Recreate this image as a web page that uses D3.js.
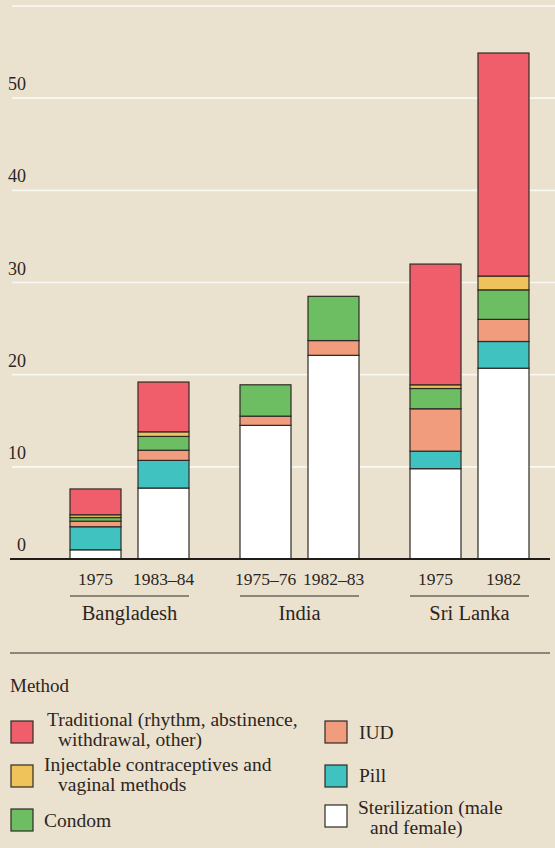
<!DOCTYPE html>
<html>
<head>
<meta charset="utf-8">
<script src="https://cdn.jsdelivr.net/npm/d3@7"></script>
<style>
  html, body { margin: 0; padding: 0; background: #ebe1cf; }
  svg { display: block; }
  text { font-family: "Liberation Serif", "Times New Roman", serif; fill: #2b2622; }
</style>
</head>
<body>
<svg id="chart" width="555" height="848"></svg>
<script>
// ---- data ----
const countries = ["Bangladesh", "India", "Sri Lanka"];
const periods = [["1975", "1983–84"], ["1975–76", "1982–83"], ["1975", "1982"]];
const methods = ["Sterilization", "Pill", "IUD", "Condom", "Injectable", "Traditional"];
// values in order: Bangladesh 1975, 1983–84, India 1975–76, 1982–83, Sri Lanka 1975, 1982
const sterilization = [1.0, 7.7, 14.5, 22.1, 9.8, 20.7];
const pill          = [2.5, 3.0, 0, 0, 1.9, 2.9];
const iud           = [0.6, 1.1, 1.0, 1.6, 4.6, 2.4];
const condom        = [0.4, 1.5, 3.4, 4.8, 2.2, 3.2];
const injectable    = [0.3, 0.5, 0, 0, 0.4, 1.5];
const traditional   = [2.8, 5.4, 0, 0, 13.1, 24.2];
const yTicks = [0, 10, 20, 30, 40, 50];
const gridValues = [10, 20, 30, 40, 50, 60];
const colors = {
  Sterilization: "#ffffff", Pill: "#40c2c0", IUD: "#f19c7c",
  Condom: "#6dbd62", Injectable: "#efc25a", Traditional: "#f05e6b"
};
const legendItems = [
  { key: "Traditional", lines: ["Traditional (rhythm, abstinence,", "withdrawal, other)"] },
  { key: "Injectable", lines: ["Injectable contraceptives and", "vaginal methods"] },
  { key: "Condom", lines: ["Condom"] },
  { key: "IUD", lines: ["IUD"] },
  { key: "Pill", lines: ["Pill"] },
  { key: "Sterilization", lines: ["Sterilization (male", "and female)"] }
];

// build rows
const seriesVals = { Sterilization: sterilization, Pill: pill, IUD: iud, Condom: condom, Injectable: injectable, Traditional: traditional };
const rows = [];
countries.forEach((c, ci) => periods[ci].forEach((p, pi) => {
  const idx = ci * 2 + pi;
  const r = { country: c, period: p, pi: pi };
  methods.forEach(m => r[m] = seriesVals[m][idx]);
  rows.push(r);
}));

const svg = d3.select("#chart");
const W = 555, H = 848;
svg.append("rect").attr("width", W).attr("height", H).attr("fill", "#ebe1cf");

const y = d3.scaleLinear().domain([0, 60]).range([559, 6]);
const x0 = d3.scaleBand().domain(countries).range([70, 529]).paddingInner(0.3).paddingOuter(0);
const x1 = d3.scaleBand().domain([0, 1]).range([0, x0.bandwidth()]).paddingInner(0.25);

// gridlines
svg.append("g").selectAll("line").data(gridValues).join("line")
  .attr("x1", 12).attr("x2", 555)
  .attr("y1", d => y(d)).attr("y2", d => y(d))
  .attr("stroke", "#faf8f2").attr("stroke-width", 1.6);

// y tick labels
svg.append("g").selectAll("text").data(yTicks).join("text")
  .attr("x", 26).attr("y", d => y(d) - 8)
  .attr("text-anchor", "end")
  .attr("font-size", 18)
  .text(d => d);

// stacked bars
const stack = d3.stack().keys(methods);
const stacked = stack(rows);
const gBars = svg.append("g");
stacked.forEach(layer => {
  gBars.append("g").selectAll("rect")
    .data(layer.filter(d => d[1] - d[0] > 0))
    .join("rect")
    .attr("x", d => x0(d.data.country) + x1(d.data.pi))
    .attr("width", x1.bandwidth())
    .attr("y", d => y(d[1]))
    .attr("height", d => y(d[0]) - y(d[1]))
    .attr("fill", colors[layer.key])
    .attr("stroke", "#2e2a26")
    .attr("stroke-width", 1.2);
});

// baseline
svg.append("line").attr("x1", 10).attr("x2", 550)
  .attr("y1", y(0)).attr("y2", y(0))
  .attr("stroke", "#1f1c1a").attr("stroke-width", 2);

// period labels
svg.append("g").selectAll("text").data(rows).join("text")
  .attr("x", d => x0(d.country) + x1(d.pi) + x1.bandwidth() / 2)
  .attr("y", 585)
  .attr("text-anchor", "middle")
  .attr("font-size", 17.5)
  .text(d => d.period);

// group underlines
svg.append("g").selectAll("line").data(countries).join("line")
  .attr("x1", d => x0(d)).attr("x2", d => x0(d) + x0.bandwidth())
  .attr("y1", 596).attr("y2", 596)
  .attr("stroke", "#2e2a26").attr("stroke-width", 1.2);

// country labels
svg.append("g").selectAll("text").data(countries).join("text")
  .attr("x", d => x0(d) + x0.bandwidth() / 2)
  .attr("y", 620)
  .attr("text-anchor", "middle")
  .attr("font-size", 20.5)
  .text(d => d);

// separator
svg.append("line").attr("x1", 10).attr("x2", 550)
  .attr("y1", 653).attr("y2", 653)
  .attr("stroke", "#2e2a26").attr("stroke-width", 1.2);

// legend
svg.append("text").attr("x", 10).attr("y", 692).attr("font-size", 19).text("Method");
const legendPos = [
  { sx: 11, sy: 721, tx: 47, ty: 726, indent: 11 },
  { sx: 11, sy: 765, tx: 44, ty: 771, indent: 14 },
  { sx: 11, sy: 809, tx: 44, ty: 827, indent: 0 },
  { sx: 325, sy: 721, tx: 359, ty: 739, indent: 0 },
  { sx: 325, sy: 765, tx: 359, ty: 782, indent: 0 },
  { sx: 325, sy: 805, tx: 358, ty: 814, indent: 12 }
];
const lg = svg.append("g");
legendItems.forEach((it, i) => {
  const p = legendPos[i];
  lg.append("rect").attr("x", p.sx).attr("y", p.sy).attr("width", 22).attr("height", 22)
    .attr("fill", colors[it.key]).attr("stroke", "#2e2a26").attr("stroke-width", 1.2);
  it.lines.forEach((ln, li) => {
    lg.append("text").attr("x", p.tx + (li > 0 ? p.indent : 0)).attr("y", p.ty + li * 20)
      .attr("font-size", 19.5).text(ln);
  });
});
</script>
</body>
</html>
